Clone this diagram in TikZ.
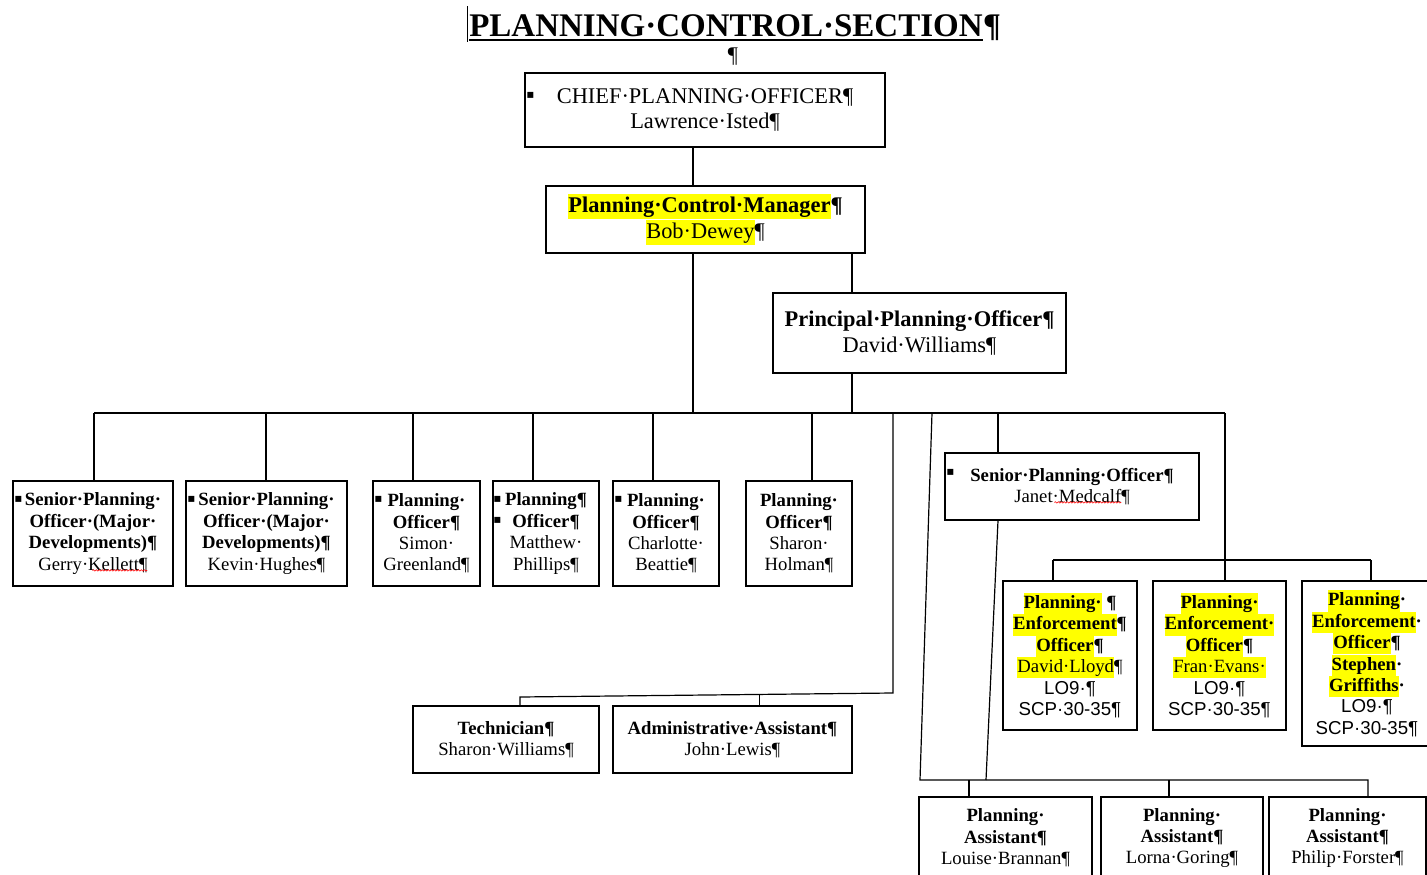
\documentclass[tikz,border=0pt]{standalone}
\usepackage{fontspec}
\setmainfont{Liberation Serif}
\newfontfamily\sansf{Liberation Sans}
\newfontfamily\symf{DejaVu Sans}
\usetikzlibrary{calc,decorations.pathmorphing}
\definecolor{hlyellow}{RGB}{255,255,0}
\newcommand\hl[1]{{\setlength{\fboxsep}{0pt}\colorbox{hlyellow}{\rule[-0.27\baselineskip]{0pt}{0.99\baselineskip}#1}}}
\newcommand\bigtxt{\fontsize{22.4}{25.8}\selectfont}
\newcommand\smtxt{\fontsize{18.7}{21.4}\selectfont}
\tikzset{
 box/.style={draw, line width=1.2pt, inner sep=0pt, align=center},
 bigbox/.style={box, font=\bigtxt},
 smbox/.style={box, font=\smtxt},
 conn/.style={line width=1.2pt},
 bul/.style={font=\symf\fontsize{12}{12}\selectfont, inner sep=0pt},
 wavy/.style={red, line width=0.6pt, decorate, decoration={snake, amplitude=0.7pt, segment length=3pt}}
}
\begin{document}
\begin{tikzpicture}[x=1pt,y=-1pt]
\useasboundingbox (0,0) rectangle (1427,875);
\clip (0,0) rectangle (1427,875);

% title
\node[inner sep=0pt, anchor=base, font=\fontsize{33}{38}\selectfont\bfseries] (title) at (726,37) {PLANNING·CONTROL·SECTION};
\node[inner sep=0pt, anchor=base west, font=\fontsize{33}{38}\selectfont\bfseries] (titlep) at (title.base east) {¶};
\draw[line width=2pt] ([yshift=-3.5pt]title.base west) -- ([yshift=-3.5pt]title.base east);
\draw[line width=1pt] ([xshift=-2pt,yshift=-5pt]title.base west) -- ([xshift=-2pt,yshift=31pt]title.base west);
\node[font=\bigtxt, inner sep=0pt] (blankp) at (733,57) {¶};

% top boxes
\node[bigbox, minimum width=360pt, minimum height=74pt] (cpo) at (705,110) {CHIEF·PLANNING·OFFICER¶\\Lawrence·Isted¶};
\node[bigbox, minimum width=319pt, minimum height=67pt] (pcm) at (705.5,219.5) {\textbf{\hl{Planning·Control·Manager}¶}\\\hl{Bob·Dewey}¶};
\node[bigbox, minimum width=293pt, minimum height=80pt] (ppo) at (919.5,333) {\textbf{Principal·Planning·Officer¶}\\David·Williams¶};

% row boxes
\node[smbox, minimum width=160pt, minimum height=105pt] (sp1) at (93,533.5) {\textbf{Senior·Planning·}\\\textbf{Officer·(Major·}\\\textbf{Developments)¶}\\Gerry·Kellett¶};
\node[smbox, minimum width=161pt, minimum height=105pt] (sp2) at (266.5,533.5) {\textbf{Senior·Planning·}\\\textbf{Officer·(Major·}\\\textbf{Developments)¶}\\Kevin·Hughes¶};
\node[smbox, minimum width=107pt, minimum height=105pt] (po1) at (426.5,533.5) {\textbf{Planning·}\\\textbf{Officer¶}\\Simon·\\Greenland¶};
\node[smbox, minimum width=106pt, minimum height=105pt] (po2) at (546,533.5) {\textbf{Planning¶}\\\textbf{Officer¶}\\Matthew·\\Phillips¶};
\node[smbox, minimum width=106pt, minimum height=105pt] (po3) at (666,533.5) {\textbf{Planning·}\\\textbf{Officer¶}\\Charlotte·\\Beattie¶};
\node[smbox, minimum width=106pt, minimum height=105pt] (po4) at (799,533.5) {\textbf{Planning·}\\\textbf{Officer¶}\\Sharon·\\Holman¶};

\node[smbox, minimum width=254pt, minimum height=67pt] (janet) at (1072,486.5) {\textbf{Senior·Planning·Officer¶}\\Janet·Medcalf¶};

\node[smbox, minimum width=134pt, minimum height=149pt] (peo1) at (1070,655.5) {\textbf{\hl{Planning·} ¶}\\\textbf{\hl{Enforcement}¶}\\\textbf{\hl{Officer}¶}\\\hl{David·Lloyd}¶\\{\sansf LO9·¶}\\{\sansf SCP·30-35¶}};
\node[smbox, minimum width=133pt, minimum height=149pt] (peo2) at (1219.5,655.5) {\textbf{\hl{Planning·}}\\\textbf{\hl{Enforcement·}}\\\textbf{\hl{Officer}¶}\\\hl{Fran·Evans·}\\{\sansf LO9·¶}\\{\sansf SCP·30-35¶}};
\node[smbox, minimum width=130pt, minimum height=165pt] (peo3) at (1367,663.5) {\textbf{\hl{Planning}·}\\\textbf{\hl{Enforcement}·}\\\textbf{\hl{Officer}¶}\\\textbf{\hl{Stephen}·}\\\textbf{\hl{Griffiths}·}\\{\sansf LO9·¶}\\{\sansf SCP·30-35¶}};

\node[smbox, minimum width=186pt, minimum height=67pt] (tech) at (506,739.5) {\textbf{Technician¶}\\Sharon·Williams¶};
\node[smbox, minimum width=239pt, minimum height=67pt] (admin) at (732.5,739.5) {\textbf{Administrative·Assistant¶}\\John·Lewis¶};

\node[smbox, minimum width=173pt, minimum height=82pt] (pa1) at (1005.5,838) {\textbf{Planning·}\\\textbf{Assistant¶}\\Louise·Brannan¶};
\node[smbox, minimum width=162pt, minimum height=82pt] (pa2) at (1182,838) {\textbf{Planning·}\\\textbf{Assistant¶}\\Lorna·Goring¶};
\node[smbox, minimum width=157pt, minimum height=82pt] (pa3) at (1347.5,838) {\textbf{Planning·}\\\textbf{Assistant¶}\\Philip·Forster¶};

% bullets
\node[bul] (b1) at ($(cpo.north west)+(6,23)$) {▪};
\node[bul] (b2) at ($(sp1.north west)+(6,19)$) {▪};
\node[bul] (b3) at ($(sp2.north west)+(6,19)$) {▪};
\node[bul] (b4) at ($(po1.north west)+(6,19)$) {▪};
\node[bul] (b5) at ($(po2.north west)+(5,19)$) {▪};
\node[bul] (b6) at ($(po2.north west)+(5,40)$) {▪};
\node[bul] (b7) at ($(po3.north west)+(6,19)$) {▪};
\node[bul] (b8) at ($(janet.north west)+(6,20)$) {▪};

% spelling marks
\draw[wavy] ($(sp1.north west)+(80,90)$) -- ++(55,0);
\draw[wavy] ($(janet.north west)+(110,50)$) -- ++(67,0);

% coordinates
\coordinate (t) at (693,413);
\coordinate (pX) at (852,413);
\coordinate (d1) at (94,413);
\coordinate (d2) at (266,413);
\coordinate (d3) at (413,413);
\coordinate (d4) at (533,413);
\coordinate (d5) at (653,413);
\coordinate (d6) at (812,413);
\coordinate (d7) at (893,413);
\coordinate (d8) at (932,413);
\coordinate (d9) at (998,413);
\coordinate (d10) at (1225,413);
\coordinate (tA) at (893,693);
\coordinate (tB) at (520,697);
\coordinate (aTop) at ($(tA)!0.357!(tB)$);
\coordinate (pB) at (920,780);
\coordinate (pE) at (1368,780);
\coordinate (p1) at (969,780);
\coordinate (p2) at (1169,780);
\coordinate (jB) at (986,780);
\coordinate (e1) at (1053,560);
\coordinate (e2) at (1225,560);
\coordinate (e3) at (1371,560);

% connectors
\draw[conn] (cpo.south -| t) -- (pcm.north -| t);
\draw[conn] (pcm.south -| t) -- (t);
\draw[conn] (pcm.south -| pX) -- (ppo.north -| pX);
\draw[conn] (ppo.south -| pX) -- (pX);
\draw[conn] (d1) -- (d10);
\draw[conn] (d1) -- (sp1.north -| d1);
\draw[conn] (d2) -- (sp2.north -| d2);
\draw[conn] (d3) -- (po1.north -| d3);
\draw[conn] (d4) -- (po2.north -| d4);
\draw[conn] (d5) -- (po3.north -| d5);
\draw[conn] (d6) -- (po4.north -| d6);
\draw[conn] (d7) -- (tA) -- (tB) -- (tech.north -| tB);
\draw[conn] (aTop) -- (admin.north -| aTop);
\draw[conn] (d8) -- (pB) -- (pE) -- (pa3.north -| pE);
\draw[conn] (p1) -- (pa1.north -| p1);
\draw[conn] (p2) -- (pa2.north -| p2);
\draw[conn] (d9) -- (janet.north -| d9);
\draw[conn] (janet.south -| d9) -- (jB);
\draw[conn] (d10) -- (e2) -- (peo2.north -| e2);
\draw[conn] (e1) -- (e3);
\draw[conn] (e1) -- (peo1.north -| e1);
\draw[conn] (e3) -- (peo3.north -| e3);
\end{tikzpicture}
\end{document}
